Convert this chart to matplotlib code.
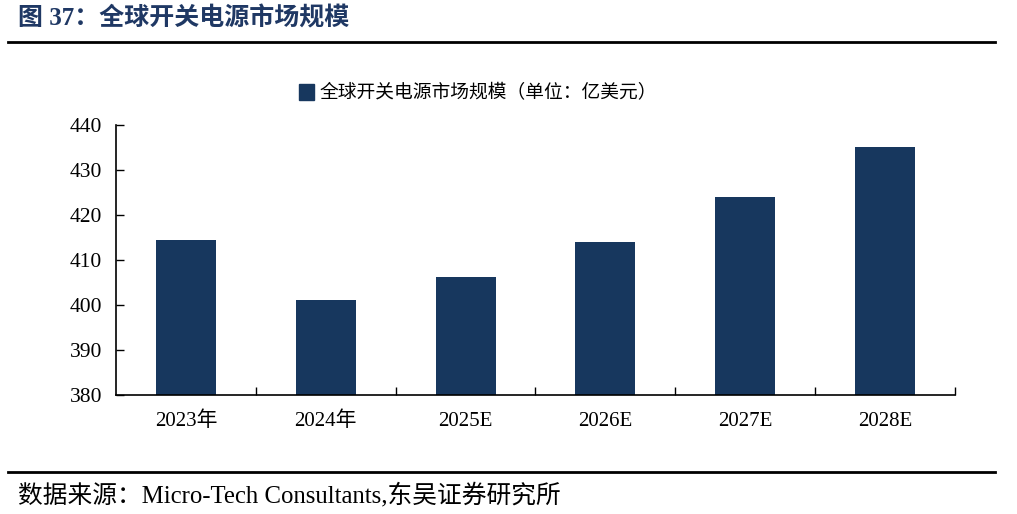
import matplotlib
matplotlib.use('Agg')
from matplotlib import pyplot
from matplotlib.lines import Line2D
from matplotlib.patches import Patch

years = ['2023年', '2024年', '2025E', '2026E', '2027E', '2028E']
market = [414.5, 401.1, 406.3, 414.1, 424.1, 435.2]
yticks = [380, 390, 400, 410, 420, 430, 440]

bar_color = '#17375E'
title_color = '#1F3864'
fonts = ['Liberation Serif', 'Noto Sans CJK SC', 'DejaVu Sans']
cjk = ['Noto Sans CJK SC', 'DejaVu Sans']

pyplot.rcParams['font.family'] = fonts

fig = pyplot.figure(figsize=(10.17, 5.14), dpi=100)
ax = fig.add_axes([116 / 1017, 1 - 395 / 514, (955 - 116) / 1017, (395 - 125) / 514])

x = list(range(len(years)))
ax.bar(x, market, width=0.43, color=bar_color, zorder=2)

ax.set_ylim(380, 440)
ax.set_yticks(yticks)
ax.set_yticklabels([str(v) for v in yticks], fontsize=15.5)
ax.set_xlim(-0.5, len(years) - 0.5)
ax.set_xticks(x)
ax.set_xticklabels(years, fontsize=15)
ax.set_xticks([i + 0.5 for i in range(len(years))], minor=True)
ax.tick_params(axis='x', which='major', length=0, pad=12)
ax.tick_params(axis='x', which='minor', direction='in', length=6, width=1)
ax.tick_params(axis='y', direction='in', length=6, width=1, pad=10)
for side in ['top', 'right']:
    ax.spines[side].set_visible(False)
for side in ['left', 'bottom']:
    ax.spines[side].set_linewidth(1.2)

handle = Patch(facecolor=bar_color, edgecolor=bar_color)
fig.legend([handle], ['全球开关电源市场规模（单位：亿美元）'], loc='center',
           bbox_to_anchor=(478 / 1017, 1 - 93 / 514), frameon=False,
           prop={'family': cjk, 'size': 13.5}, handlelength=0.8, handleheight=0.9,
           handletextpad=0.3)

fig.text(18 / 1017, 1 - 18 / 514, '图 37：全球开关电源市场规模', fontsize=18,
         fontweight='bold', color=title_color, va='center', ha='left', family=fonts)
fig.add_artist(Line2D([8 / 1017, 995 / 1017], [1 - 42 / 514] * 2, color='black', lw=2))
fig.add_artist(Line2D([8 / 1017, 995 / 1017], [1 - 472 / 514] * 2, color='black', lw=2))
fig.text(18 / 1017, 1 - 495 / 514, '数据来源：Micro-Tech Consultants,东吴证券研究所',
         fontsize=17.8, va='center', ha='left', family=fonts)

fig.savefig('out.png', dpi=100)
